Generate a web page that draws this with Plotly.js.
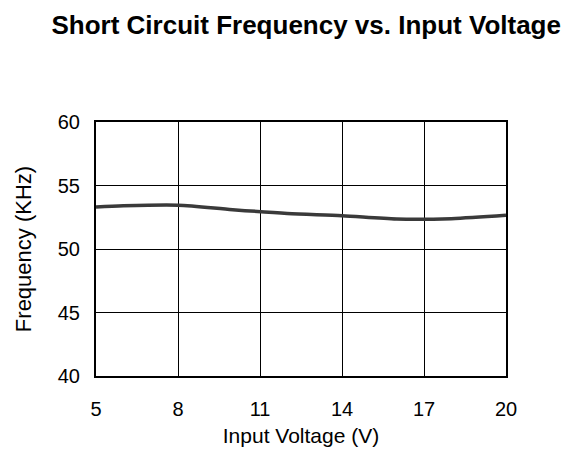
<!DOCTYPE html>
<html>
<head>
<meta charset="utf-8">
<script src="https://cdn.plot.ly/plotly-3.0.1.min.js"></script>
<style>html,body{margin:0;padding:0;background:#fff;}#chart{width:580px;height:454px;}</style>
</head>
<body>
<div id="chart"></div>
<script>
const voltage = [5, 6, 8, 10, 12, 14, 16, 18, 20];
const frequency = [53.3, 53.4, 53.45, 53.1, 52.8, 52.62, 52.36, 52.39, 52.65];
const xTicks = [5, 8, 11, 14, 17, 20];
const yTicks = [40, 45, 50, 55, 60];

const trace = {
  x: voltage, y: frequency, type: 'scatter', mode: 'lines',
  line: {color: '#3a3a3a', width: 3.5, shape: 'spline', smoothing: 0.8},
  hoverinfo: 'skip'
};
const font = {family: 'Liberation Sans, Arial, sans-serif', color: '#000'};
const layout = {
  width: 580, height: 454,
  margin: {l: 96, r: 74, t: 122, b: 78},
  paper_bgcolor: '#fff', plot_bgcolor: '#fff',
  showlegend: false,
  font: Object.assign({size: 20}, font),
  title: {text: '<b>Short Circuit Frequency vs. Input Voltage</b>',
    font: Object.assign({size: 26}, font),
    x: 0.528, xref: 'container', xanchor: 'center', y: 0.945, yref: 'container', yanchor: 'middle'},
  xaxis: {
    range: [5, 20], tickvals: xTicks, ticktext: xTicks.map(String),
    showgrid: true, gridcolor: '#000', gridwidth: 1,
    showline: true, linecolor: '#000', linewidth: 2, mirror: true,
    ticks: '', ticklabelstandoff: 14, zeroline: false,
    tickfont: Object.assign({size: 20}, font),
    title: {text: 'Input Voltage (V)', font: Object.assign({size: 21}, font), standoff: 9}
  },
  yaxis: {
    range: [40, 60], tickvals: yTicks, ticktext: yTicks.map(String),
    showgrid: true, gridcolor: '#000', gridwidth: 1,
    showline: true, linecolor: '#000', linewidth: 2, mirror: true,
    ticks: '', ticklabelstandoff: 10, zeroline: false,
    tickfont: Object.assign({size: 20}, font),
    title: {text: 'Frequency (KHz)', font: Object.assign({size: 22}, font), standoff: 20}
  }
};
Plotly.newPlot('chart', [trace], layout, {staticPlot: true, displayModeBar: false});
</script>
</body>
</html>
